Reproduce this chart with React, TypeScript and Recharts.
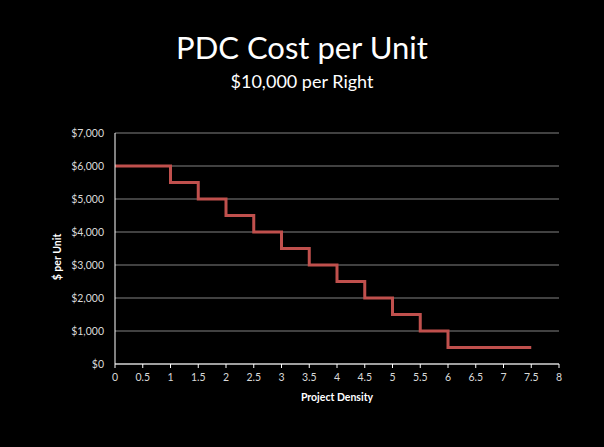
import React from "react";
import { LineChart, Line, XAxis, YAxis, CartesianGrid, Label } from "recharts";

const density = [0, 1, 1.5, 2, 2.5, 3, 3.5, 4, 4.5, 5, 5.5, 6, 7.5];
const costPerUnit = [6000, 5500, 5000, 4500, 4000, 3500, 3000, 2500, 2000, 1500, 1000, 500, 500];
const xTicks = [0, 0.5, 1, 1.5, 2, 2.5, 3, 3.5, 4, 4.5, 5, 5.5, 6, 6.5, 7, 7.5, 8];
const yTicks = [0, 1000, 2000, 3000, 4000, 5000, 6000, 7000];

const data = density.map((d, i) => ({ density: d, cost: costPerUnit[i] }));

const FONT = "Lato, 'Open Sans', sans-serif";
const tickStyle = { fill: "#d9d9d9", fontSize: 10.5, fontFamily: FONT };
const axisTitle = { fill: "#fff", fontSize: 10.5, fontWeight: 700, fontFamily: FONT };

export default function App() {
  return (
    <div style={{ position: "absolute", left: 0, top: 0, width: 604, height: 447, background: "#000" }}>
      <LineChart width={604} height={447} data={data} margin={{ top: 133, right: 45, bottom: 43, left: 0 }}>
        <CartesianGrid vertical={false} stroke="#828282" strokeWidth={1} />
        <XAxis
          dataKey="density"
          type="number"
          domain={[0, 8]}
          ticks={xTicks}
          interval={0}
          height={40}
          stroke="#fff"
          tickLine={{ stroke: "#fff" }}
          tickSize={4}
          tickMargin={6}
          tick={tickStyle}
        >
          <Label value="Project Density" position="insideBottom" offset={3} style={axisTitle} />
        </XAxis>
        <YAxis
          type="number"
          domain={[0, 7000]}
          ticks={yTicks}
          interval={0}
          width={115}
          stroke="#fff"
          tickLine={false}
          tickMargin={5}
          tick={tickStyle}
          tickFormatter={(v: number) => "$" + v.toLocaleString("en-US")}
        />
        <Line type="stepAfter" dataKey="cost" stroke="#c0504d" strokeWidth={3} dot={false} isAnimationActive={false} />
      </LineChart>
      {/* titles drawn on top of the chart */}
      <svg width={604} height={447} style={{ position: "absolute", left: 0, top: 0, pointerEvents: "none" }}>
        <text x={302} y={59} textAnchor="middle" fill="#fff" fontSize={31} fontFamily={FONT}>
          PDC Cost per Unit
        </text>
        <text x={302} y={88} textAnchor="middle" fill="#fff" fontSize={18} fontFamily={FONT}>
          $10,000 per Right
        </text>
        <text
          x={0}
          y={0}
          transform="translate(61 257) rotate(-90)"
          textAnchor="middle"
          {...axisTitle}
        >
          $ per Unit
        </text>
      </svg>
    </div>
  );
}
